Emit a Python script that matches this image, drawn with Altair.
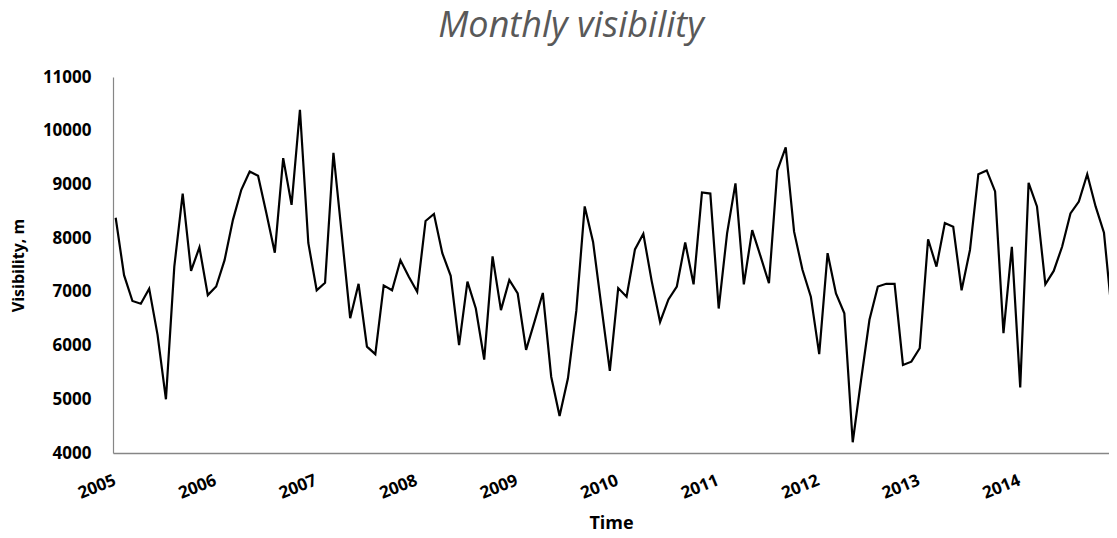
import altair as alt
import pandas as pd

chart_title = "Monthly visibility"
years = ["2005", "2006", "2007", "2008", "2009", "2010", "2011", "2012", "2013", "2014"]

vis_2005 = [8380, 7310, 6830, 6780, 7060, 6200, 5000, 7470, 8830, 7390, 7830, 6940]
vis_2006 = [7100, 7590, 8340, 8900, 9240, 9160, 8460, 7730, 9490, 8620, 10390, 7910]
vis_2007 = [7030, 7170, 9590, 8060, 6510, 7150, 5980, 5840, 7120, 7030, 7590, 7280]
vis_2008 = [7000, 8320, 8450, 7720, 7300, 6010, 7190, 6690, 5740, 7660, 6660, 7220]
vis_2009 = [6970, 5920, 6440, 6980, 5420, 4690, 5390, 6650, 8590, 7930, 6720, 5530]
vis_2010 = [7070, 6910, 7790, 8080, 7200, 6440, 6860, 7100, 7920, 7140, 8850, 8830]
vis_2011 = [6690, 8090, 9020, 7140, 8150, 7660, 7160, 9260, 9690, 8120, 7410, 6910]
vis_2012 = [5840, 7720, 6970, 6600, 4200, 5360, 6480, 7100, 7150, 7150, 5640, 5700]
vis_2013 = [5950, 7980, 7470, 8280, 8210, 7030, 7780, 9190, 9260, 8870, 6230, 7840]
vis_2014 = [5220, 9030, 8590, 7140, 7390, 7840, 8460, 8680, 9190, 8590, 8100, 6500]

y_ticks = [4000, 5000, 6000, 7000, 8000, 9000, 10000, 11000]

series = [vis_2005, vis_2006, vis_2007, vis_2008, vis_2009,
          vis_2010, vis_2011, vis_2012, vis_2013, vis_2014]
rows = []
for yi, (yr, vals) in enumerate(zip(years, series)):
    for m, v in enumerate(vals):
        rows.append({"idx": yi * 12 + m, "year": yr, "month": m + 1, "visibility": v})
df = pd.DataFrame(rows)

year_array = "[" + ",".join("'" + y + "'" for y in years) + "]"
x_tick_values = [i * 12 for i in range(len(years))]

font = "Open Sans"

line = alt.Chart(df).mark_line(
    color="#000000", strokeWidth=2.2, clip=True
).encode(
    x=alt.X(
        "idx:Q",
        scale=alt.Scale(domain=[-0.32, 118.6], nice=False, zero=False),
        axis=alt.Axis(
            values=x_tick_values,
            labelExpr=year_array + "[round(datum.value/12)]",
            labelAngle=338,
            labelAlign="right",
            labelBaseline="top",
            labelOffset=-4,
            labelPadding=19,
            labelFont=font,
            labelFontSize=17,
            labelFontWeight="bold",
            labelColor="#000000",
            ticks=False,
            tickSize=0,
            grid=False,
            domainColor="#868686",
            domainWidth=1.5,
            title="Time",
            titleFont=font,
            titleFontSize=18,
            titleFontWeight="bold",
            titleColor="#000000",
            titleY=75,
            titleBaseline="alphabetic",
            labelOverlap=False,
        ),
    ),
    y=alt.Y(
        "visibility:Q",
        scale=alt.Scale(domain=[4000, 11000], nice=False, zero=False),
        axis=alt.Axis(
            values=y_ticks,
            format="d",
            labelFont=font,
            labelFontSize=17,
            labelFontWeight="bold",
            labelColor="#000000",
            labelPadding=22,
            ticks=False,
            tickSize=0,
            grid=False,
            domainColor="#868686",
            domainWidth=1.2,
            title="Visibility, m",
            titleFont=font,
            titleFontSize=16,
            titleFontWeight="bold",
            titleColor="#000000",
            titleAngle=270,
            titleX=-95,
            titleY=188,
            titleAlign="center",
            titleBaseline="middle",
        ),
    ),
)

title_text = alt.Chart(pd.DataFrame({"t": [chart_title]})).mark_text(
    font=font,
    fontSize=36,
    fontStyle="italic",
    fontWeight="normal",
    color="#595959",
    align="center",
    baseline="alphabetic",
).encode(
    text="t:N",
    x=alt.value(458),
    y=alt.value(-40),
)

chart = alt.layer(line, title_text).properties(
    width=996,
    height=376,
    padding={"left": 105, "top": 69, "right": 0, "bottom": 77},
    autosize=alt.AutoSizeParams(type="none"),
    background="#ffffff",
).configure_view(
    stroke="transparent", strokeWidth=0
)

chart.save("out.html", embed_options={"renderer": "svg", "actions": False})
